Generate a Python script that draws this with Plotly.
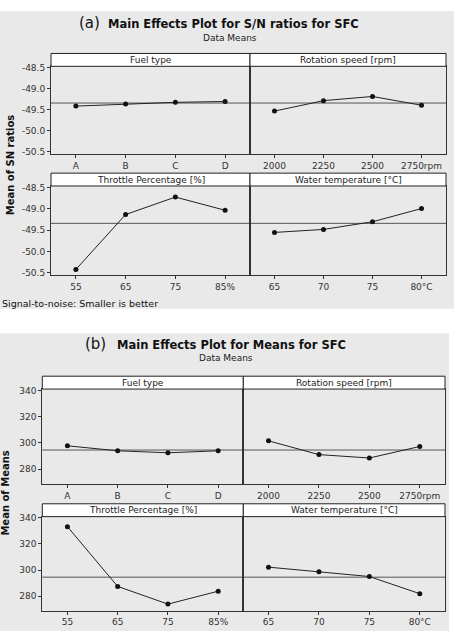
import numpy as np
import plotly.graph_objects as go

W, H = 454, 642

# ---------------- data ----------------
factors = ["Fuel type", "Rotation speed [rpm]", "Throttle Percentage [%]", "Water temperature [°C]"]
ticks_fuel = ["A", "B", "C", "D"]
ticks_rpm = ["2000", "2250", "2500", "2750rpm"]
ticks_throttle = ["55", "65", "75", "85%"]
ticks_water = ["65", "70", "75", "80°C"]
tick_sets = [ticks_fuel, ticks_rpm, ticks_throttle, ticks_water]

sn_fuel = [-49.41, -49.36, -49.32, -49.30]
sn_rpm = [-49.53, -49.28, -49.18, -49.39]
sn_throttle = [-50.42, -49.13, -48.72, -49.03]
sn_water = [-49.55, -49.48, -49.30, -48.99]
sn_series = [sn_fuel, sn_rpm, sn_throttle, sn_water]
sn_yticks = [-48.5, -49.0, -49.5, -50.0, -50.5]
sn_yticktext = ["-48.5", "-49.0", "-49.5", "-50.0", "-50.5"]

mean_fuel = [297.7, 293.9, 292.4, 293.9]
mean_rpm = [301.5, 291.0, 288.4, 297.2]
mean_throttle = [333.3, 287.4, 273.8, 283.7]
mean_water = [302.2, 298.7, 295.0, 281.8]
mean_series = [mean_fuel, mean_rpm, mean_throttle, mean_water]
mean_yticks = [340, 320, 300, 280]

FONT = "DejaVu Sans"
fig = go.Figure()

def px_x(p):
    return p / W

def px_y(p):
    return 1 - p / H

shapes = []
annotations = []

def add_chart(series, yticks, yticktext, yrange, cols, rows, strip_h, ax_start):
    allvals = np.concatenate([np.array(s) for s in series])
    grand = float(np.mean(allvals))
    k = 0
    for r, (yt, yb) in enumerate(rows):
        for c, (xl, xr) in enumerate(cols):
            idx = ax_start + k
            s = series[k]
            xname = "x" if idx == 1 else f"x{idx}"
            yname = "y" if idx == 1 else f"y{idx}"
            fig.add_trace(go.Scatter(
                x=list(range(len(s))), y=s, mode="lines+markers",
                line=dict(color="#222222", width=1),
                marker=dict(color="#111111", size=5),
                xaxis=xname, yaxis=yname, showlegend=False, hoverinfo="skip"))
            xkey = "xaxis" if idx == 1 else f"xaxis{idx}"
            ykey = "yaxis" if idx == 1 else f"yaxis{idx}"
            fig.update_layout(**{
                xkey: dict(domain=[px_x(xl), px_x(xr)], range=[-0.5, 3.5],
                           anchor=yname, tickvals=list(range(4)), ticktext=tick_sets[k],
                           ticks="outside", ticklen=3, tickcolor="#333", showgrid=False,
                           zeroline=False, showline=True, mirror=True, linecolor="#333",
                           linewidth=1, tickfont=dict(family=FONT, size=9, color="#333")),
                ykey: dict(domain=[px_y(yb), px_y(yt)], range=yrange, anchor=xname,
                           tickvals=yticks, ticktext=yticktext if c == 0 else None,
                           showticklabels=(c == 0), ticks="outside" if c == 0 else "",
                           ticklen=3, tickcolor="#333", showgrid=False, zeroline=False,
                           showline=True, mirror=True, linecolor="#333", linewidth=1,
                           tickfont=dict(family=FONT, size=9, color="#333")),
            })
            shapes.append(dict(type="line", xref=f"{xname} domain", yref=yname,
                               x0=0, x1=1, y0=grand, y1=grand,
                               line=dict(color="#555555", width=1), layer="below"))
            shapes.append(dict(type="rect", xref="paper", yref="paper",
                               x0=px_x(xl), x1=px_x(xr), y0=px_y(yt), y1=px_y(yt - strip_h),
                               fillcolor="white", line=dict(color="#222", width=1)))
            annotations.append(dict(text=factors[k], xref="paper", yref="paper",
                                    x=px_x((xl + xr) / 2), y=px_y(yt - strip_h / 2),
                                    xanchor="center", yanchor="middle", showarrow=False,
                                    font=dict(family=FONT, size=9, color="#222")))
            k += 1

shapes.append(dict(type="rect", xref="paper", yref="paper", x0=0, x1=1,
                   y0=px_y(308), y1=px_y(7), fillcolor="#e9e9e9", line=dict(width=0), layer="below"))
shapes.append(dict(type="rect", xref="paper", yref="paper", x0=0, x1=px_x(449),
                   y0=px_y(634), y1=px_y(333), fillcolor="#e9e9e9", line=dict(width=0), layer="below"))

add_chart(sn_series, sn_yticks, sn_yticktext, [-50.55, -48.46],
          cols=[(51, 250), (250, 446)], rows=[(63, 151.5), (184, 274)], strip_h=13, ax_start=1)
add_chart(mean_series, mean_yticks, [str(v) for v in mean_yticks], [268.8, 341],
          cols=[(42.3, 243.3), (243.3, 445)], rows=[(389.3, 485), (518.3, 613.3)],
          strip_h=13, ax_start=5)

annotations += [
    dict(text="(a)", xref="paper", yref="paper", x=px_x(102), y=px_y(19), xanchor="right",
         yanchor="middle", showarrow=False, font=dict(family=FONT, size=15, color="#111")),
    dict(text="<b>Main Effects Plot for S/N ratios for SFC</b>", xref="paper", yref="paper",
         x=px_x(106), y=px_y(20.5), xanchor="left", yanchor="middle", showarrow=False,
         font=dict(family=FONT, size=11.5, color="#111")),
    dict(text="Data Means", xref="paper", yref="paper", x=px_x(230), y=px_y(34),
         xanchor="center", yanchor="middle", showarrow=False,
         font=dict(family=FONT, size=9, color="#222")),
    dict(text="<b>Mean of SN ratios</b>", xref="paper", yref="paper", x=px_x(10), y=px_y(163),
         xanchor="center", yanchor="middle", textangle=-90, showarrow=False,
         font=dict(family=FONT, size=10, color="#111")),
    dict(text="Signal-to-noise: Smaller is better", xref="paper", yref="paper", x=px_x(0),
         y=px_y(303), xanchor="left", yanchor="middle", showarrow=False,
         font=dict(family=FONT, size=9.5, color="#111")),
    dict(text="(b)", xref="paper", yref="paper", x=px_x(108), y=px_y(344), xanchor="right",
         yanchor="middle", showarrow=False, font=dict(family=FONT, size=15, color="#111")),
    dict(text="<b>Main Effects Plot for Means for SFC</b>", xref="paper", yref="paper",
         x=px_x(115), y=px_y(345), xanchor="left", yanchor="middle", showarrow=False,
         font=dict(family=FONT, size=11.5, color="#111")),
    dict(text="Data Means", xref="paper", yref="paper", x=px_x(226), y=px_y(358),
         xanchor="center", yanchor="middle", showarrow=False,
         font=dict(family=FONT, size=9, color="#222")),
    dict(text="<b>Mean of Means</b>", xref="paper", yref="paper", x=px_x(6), y=px_y(495),
         xanchor="center", yanchor="middle", textangle=-90, showarrow=False,
         font=dict(family=FONT, size=10, color="#111")),
]

fig.update_layout(width=W, height=H, margin=dict(l=0, r=0, t=0, b=0),
                  paper_bgcolor="white", plot_bgcolor="white",
                  shapes=shapes, annotations=annotations, showlegend=False)

fig.write_html("out.html")
